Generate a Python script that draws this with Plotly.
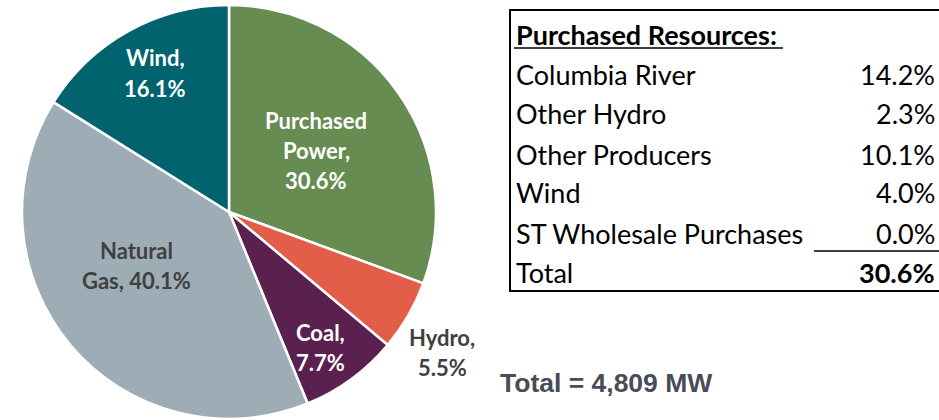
import plotly.graph_objects as go

# pie data
sources = ["Purchased Power", "Hydro", "Coal", "Natural Gas", "Wind"]
shares = [30.6, 5.5, 7.7, 40.1, 16.1]
colors = ["#678c52", "#e25e49", "#5a2150", "#9eacb6", "#00636e"]

# purchased resources table
table_items = ["Columbia River", "Other Hydro", "Other Producers", "Wind", "ST Wholesale Purchases"]
table_values = [14.2, 2.3, 10.1, 4.0, 0.0]
table_total = 30.6
total_mw = 4809

W, H = 939, 420
FONT = "Lato"

fig = go.Figure()
fig.add_trace(go.Pie(
    labels=sources,
    values=shares,
    marker=dict(colors=colors, line=dict(color="white", width=2.5)),
    sort=False,
    direction="clockwise",
    rotation=0,
    textinfo="none",
    hoverinfo="label+percent",
    showlegend=False,
    domain=dict(x=[22 / W, 436 / W], y=[1 / H, 415 / H]),
))


def px_x(x):
    return x / W


def px_y(y):
    return 1 - y / H


# label lines for each slice: (lines, x, first y, colour)
label_pos = {
    "Purchased Power": (["Purchased", "Power,", "{}%"], 316, 120, "white"),
    "Hydro": (["Hydro,", "{}%"], 442, 337, "#404040"),
    "Coal": (["Coal,", "{}%"], 320, 332, "white"),
    "Natural Gas": (["Natural", "Gas, {}%"], 136, 250, "#404040"),
    "Wind": (["Wind,", "{}%"], 155, 58, "white"),
}
annotations = []
for name, val in zip(sources, shares):
    lines, x, y0, col = label_pos[name]
    for i, ln in enumerate(lines):
        annotations.append(dict(
            text="<b>" + ln.format(val) + "</b>", x=px_x(x), y=px_y(y0 + i * 30),
            xref="paper", yref="paper", showarrow=False,
            xanchor="center", yanchor="middle",
            font=dict(family=FONT, size=22, color=col),
        ))

# table text
tfont = dict(family=FONT, size=27, color="black")
annotations.append(dict(
    text="<b>Purchased Resources:</b>", x=px_x(514), y=px_y(34),
    xref="paper", yref="paper", showarrow=False, xanchor="left", yanchor="middle",
    font=tfont,
))
row_y = [74, 114, 154, 193, 233]
for name, val, y in zip(table_items, table_values, row_y):
    annotations.append(dict(
        text=name, x=px_x(514), y=px_y(y), xref="paper", yref="paper",
        showarrow=False, xanchor="left", yanchor="middle", font=tfont,
    ))
    annotations.append(dict(
        text=f"{val:.1f}%", x=px_x(937), y=px_y(y), xref="paper", yref="paper",
        showarrow=False, xanchor="right", yanchor="middle", font=tfont,
    ))
annotations.append(dict(
    text="Total", x=px_x(514), y=px_y(272), xref="paper", yref="paper",
    showarrow=False, xanchor="left", yanchor="middle", font=tfont,
))
annotations.append(dict(
    text=f"<b>{table_total:.1f}%</b>", x=px_x(937), y=px_y(272), xref="paper", yref="paper",
    showarrow=False, xanchor="right", yanchor="middle", font=tfont,
))

annotations.append(dict(
    text=f"<b>Total = {total_mw:,} MW</b>", x=px_x(498), y=px_y(383),
    xref="paper", yref="paper", showarrow=False, xanchor="left", yanchor="middle",
    font=dict(family="Liberation Sans", size=26.5, color="#474c55"),
))

shapes = [
    # table frame
    dict(type="line", x0=px_x(510), x1=px_x(510), y0=px_y(9), y1=px_y(292),
         xref="paper", yref="paper", line=dict(color="black", width=2)),
    dict(type="line", x0=px_x(509), x1=px_x(939), y0=px_y(10), y1=px_y(10),
         xref="paper", yref="paper", line=dict(color="black", width=2)),
    dict(type="line", x0=px_x(509), x1=px_x(939), y0=px_y(291), y1=px_y(291),
         xref="paper", yref="paper", line=dict(color="black", width=2)),
    # header underline
    dict(type="line", x0=px_x(514), x1=px_x(783), y0=px_y(48), y1=px_y(48),
         xref="paper", yref="paper", line=dict(color="black", width=1.5)),
    # sum line
    dict(type="line", x0=px_x(814), x1=px_x(939), y0=px_y(251), y1=px_y(251),
         xref="paper", yref="paper", line=dict(color="black", width=1.5)),
]

fig.update_layout(
    width=W, height=H,
    margin=dict(l=0, r=0, t=0, b=0),
    paper_bgcolor="white", plot_bgcolor="white",
    annotations=annotations, shapes=shapes,
)

fig.write_html("out.html", config={"displayModeBar": False},
               post_script="document.body.style.margin='0';")
